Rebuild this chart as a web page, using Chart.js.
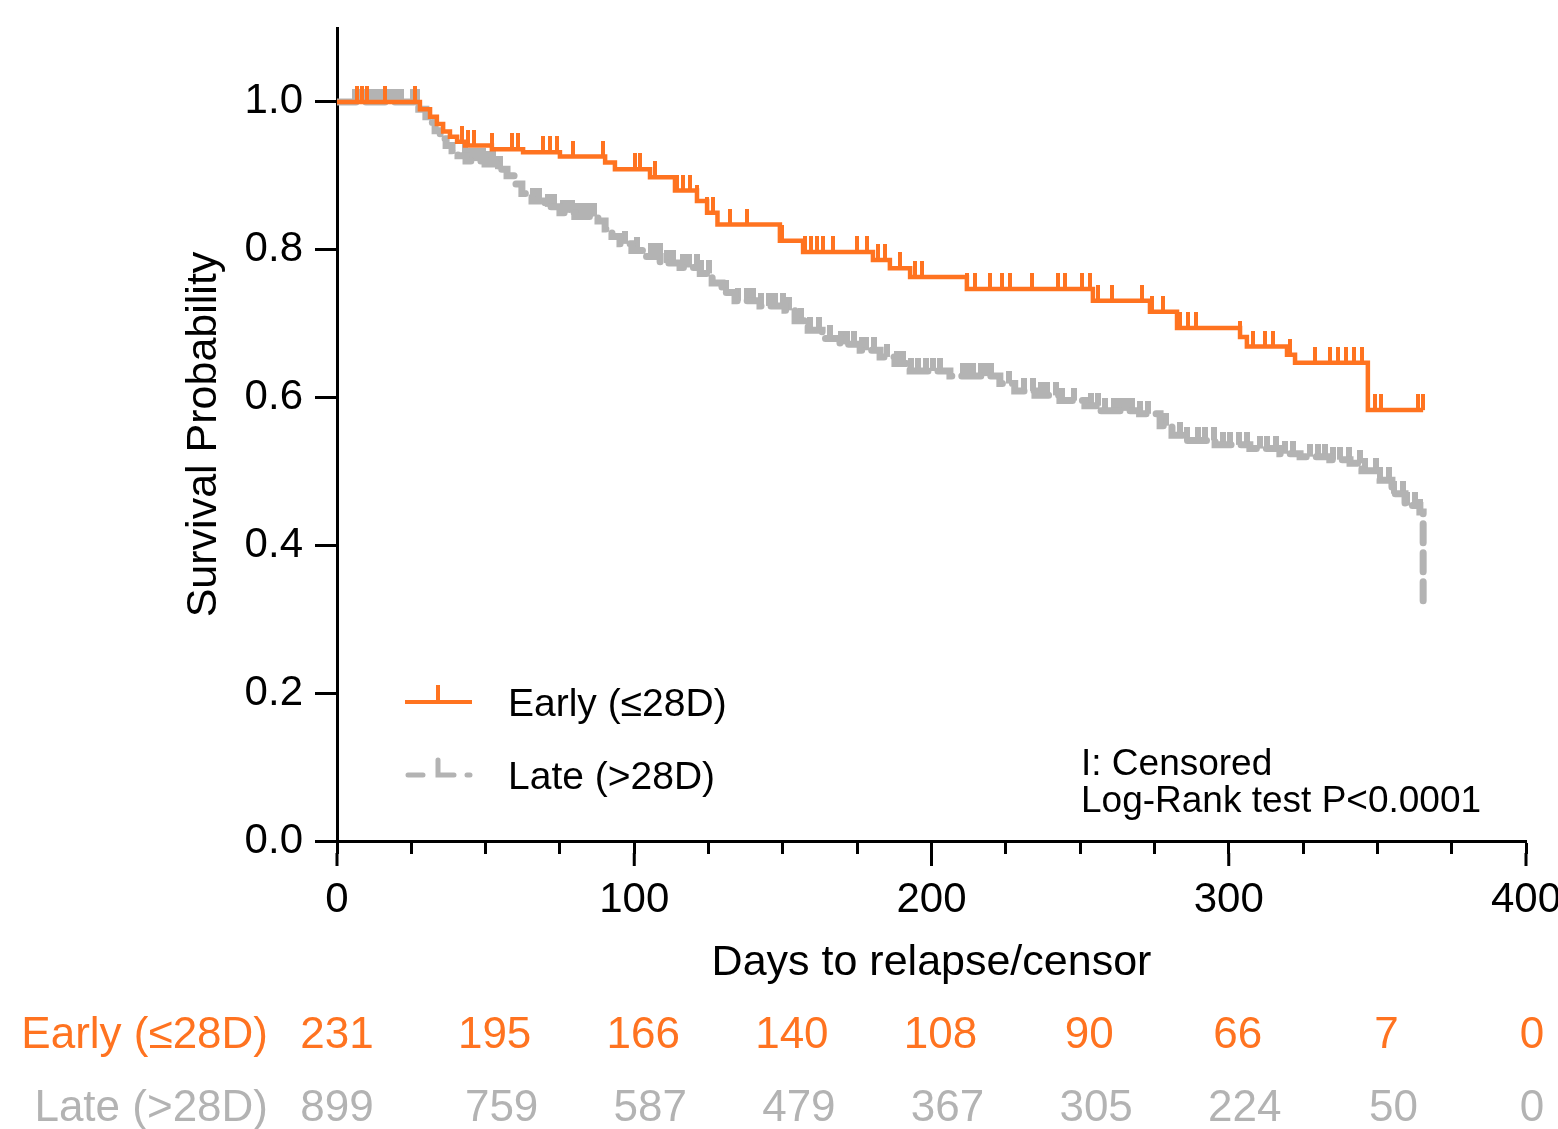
<!DOCTYPE html>
<html>
<head>
<meta charset="utf-8">
<script src="https://cdn.jsdelivr.net/npm/chart.js"></script>
<style>
  html, body { margin: 0; padding: 0; background: #fff; overflow: hidden; }
  #wrap { width: 1600px; height: 1129px; }
</style>
</head>
<body>
<div id="wrap"><canvas id="km"></canvas></div>
<script>
// Kaplan-Meier steps: time (days) where survival drops, and survival after the drop
const seriesNames = ['Early (\u226428D)', 'Late (>28D)'];

const earlyTimes = [0, 27.9, 31.3, 33.6, 35.7, 38.0, 40.4, 43.1, 52.1, 62.6, 75.0, 90.2, 93.5, 105.3, 113.7, 121.1, 124.5, 128.0, 149.0, 156.8, 180.3, 186.0, 192.8, 211.9, 254.3, 273.5, 282.6, 303.8, 306.1, 319.6, 322.3, 346.8, 365.4];
const earlySurv = [1.0, 0.990, 0.980, 0.970, 0.960, 0.953, 0.946, 0.941, 0.936, 0.932, 0.926, 0.918, 0.909, 0.898, 0.880, 0.866, 0.850, 0.834, 0.812, 0.797, 0.786, 0.775, 0.763, 0.747, 0.731, 0.716, 0.694, 0.682, 0.669, 0.658, 0.647, 0.583, 0.583];
const earlyCensor = [6.7, 8.4, 10.1, 16.1, 26.2, 42.1, 44.1, 46.1, 52.1, 58.9, 60.9, 69.3, 71.7, 74.0, 79.4, 89.5, 100.3, 101.9, 107.0, 114.4, 116.4, 118.8, 121.1, 124.5, 126.5, 132.2, 137.9, 149.7, 157.4, 159.5, 161.5, 163.5, 166.9, 174.9, 178.3, 182.0, 184.4, 189.4, 194.5, 196.8, 211.9, 214.6, 219.7, 223.7, 226.4, 233.8, 242.6, 244.9, 250.6, 253.3, 256.0, 260.7, 270.8, 274.2, 277.9, 283.6, 286.3, 289.0, 303.8, 308.2, 312.2, 314.9, 320.6, 329.0, 334.1, 336.8, 339.4, 342.1, 344.8, 349.2, 351.2, 363.7, 365.4];

const lateTimes = [0, 27.5, 29.9, 31.3, 33.0, 34.7, 36.7, 38.7, 40.7, 43.4, 49.8, 53.8, 57.2, 59.9, 62.2, 65.6, 70.0, 75.0, 80.0, 87.8, 90.2, 92.5, 95.2, 99.2, 103.6, 108.7, 115.4, 122.2, 126.2, 129.5, 133.9, 142.3, 150.7, 154.1, 158.5, 163.2, 169.2, 176.0, 182.7, 187.7, 192.8, 206.2, 223.0, 228.0, 234.8, 243.2, 251.6, 256.7, 270.0, 276.9, 280.9, 285.3, 295.4, 307.1, 317.2, 324.0, 334.0, 340.8, 344.8, 350.9, 354.9, 359.3, 364.3, 365.4];
const lateSurv = [1.0, 0.990, 0.980, 0.972, 0.961, 0.950, 0.941, 0.934, 0.927, 0.920, 0.916, 0.909, 0.900, 0.889, 0.876, 0.866, 0.858, 0.850, 0.845, 0.839, 0.828, 0.818, 0.808, 0.799, 0.791, 0.782, 0.776, 0.768, 0.755, 0.742, 0.731, 0.724, 0.718, 0.704, 0.691, 0.680, 0.672, 0.664, 0.655, 0.646, 0.636, 0.629, 0.619, 0.609, 0.603, 0.596, 0.589, 0.582, 0.578, 0.562, 0.549, 0.542, 0.536, 0.531, 0.524, 0.520, 0.516, 0.511, 0.501, 0.488, 0.470, 0.454, 0.445, 0.323];
const lateCensor = [6, 7.5, 9, 10.5, 12.5, 14, 15.5, 17, 18.5, 20, 21.5, 25.5, 27, 43, 44.5, 46, 47.5, 49, 51, 52.5, 54, 55, 66, 68, 71, 73, 76, 77.5, 79, 80.5, 82, 83.5, 85, 86.5, 97, 101, 105.5, 107, 108.5, 111, 113, 116.5, 118.5, 121, 122.5, 125, 131, 135, 138, 140, 142.5, 145.5, 147.5, 150, 152, 156, 159, 162, 166, 169.5, 171.5, 174, 176.5, 178, 180.5, 185, 188.5, 190.5, 193, 195.5, 198, 200.5, 203, 210.5, 212, 214, 216.5, 218, 220, 226, 231, 234, 237, 239, 242, 244, 248, 253.5, 256, 258.5, 261.5, 263.5, 265.5, 267.5, 270, 273, 279, 283.5, 286, 289.5, 292, 295, 298, 300.5, 303.5, 306, 310.5, 313, 316, 319, 321.5, 327.5, 330, 332.5, 335, 337.5, 340.5, 344, 346, 349.5, 351, 354, 355.5, 358.5, 360, 362.5, 364.5];

// axis ticks
const xTicks = [0, 25, 50, 75, 100, 125, 150, 175, 200, 225, 250, 275, 300, 325, 350, 375, 400];
const xLabelled = [0, 100, 200, 300, 400];
const yTicks = [0, 0.2, 0.4, 0.6, 0.8, 1.0];

// number at risk table
const riskTimes = [0, 50, 100, 150, 200, 250, 300, 350, 400];
const riskEarly = [231, 195, 166, 140, 108, 90, 66, 7, 0];
const riskLate = [899, 759, 587, 479, 367, 305, 224, 50, 0];

const notes = ['I: Censored', 'Log-Rank test P<0.0001'];

const orange = '#ff7320';
const grey = '#b3b3b3';
const FONT = "'Liberation Sans', Arial, Helvetica, sans-serif";

function survAt(times, surv, t) {
    let s = surv[0];
    for (let i = 0; i < times.length; i++) {
        if (times[i] <= t) s = surv[i];
    }
    return s;
}

// censor mark: vertical tick standing on the curve
function tickImage(color, w, h) {
    const c = document.createElement('canvas');
    c.width = w;
    c.height = h * 2;
    const g = c.getContext('2d');
    g.fillStyle = color;
    g.fillRect(0, 0, w, h);
    return c;
}

const overlay = {
    id: 'overlay',
    afterDraw(chart) {
        const ctx = chart.ctx;
        const x = chart.scales.x;
        ctx.save();

        // longer marks for the labelled x ticks
        ctx.strokeStyle = '#000';
        ctx.lineWidth = 3;
        ctx.beginPath();
        xLabelled.forEach(v => {
            const px = x.getPixelForValue(v);
            ctx.moveTo(px, x.top + 12);
            ctx.lineTo(px, x.top + 25);
        });
        ctx.stroke();

        // legend
        ctx.lineCap = 'butt';
        ctx.strokeStyle = orange;
        ctx.lineWidth = 4;
        ctx.beginPath();
        ctx.moveTo(405, 702); ctx.lineTo(472, 702);
        ctx.moveTo(438, 685); ctx.lineTo(438, 702);
        ctx.stroke();

        ctx.strokeStyle = grey;
        ctx.lineWidth = 5;
        ctx.lineCap = 'round';
        ctx.beginPath();
        ctx.moveTo(408, 775); ctx.lineTo(423, 775);
        ctx.moveTo(438, 760); ctx.lineTo(438, 775); ctx.lineTo(454, 775);
        ctx.moveTo(467, 775); ctx.lineTo(470, 775);
        ctx.stroke();

        ctx.fillStyle = '#000';
        ctx.font = '39px ' + FONT;
        ctx.textAlign = 'left';
        ctx.textBaseline = 'alphabetic';
        ctx.fillText(seriesNames[0], 508, 716);
        ctx.fillText(seriesNames[1], 508, 789);

        // notes
        ctx.font = '37px ' + FONT;
        ctx.fillText(notes[0], 1081, 775);
        ctx.fillText(notes[1], 1081, 812);

        // risk table
        ctx.font = '44px ' + FONT;
        const rows = [
            { name: seriesNames[0], vals: riskEarly, color: orange, y: 1048, shift: 9 },
            { name: seriesNames[1], vals: riskLate, color: grey, y: 1121, shift: 16 }
        ];
        rows.forEach(r => {
            ctx.fillStyle = r.color;
            ctx.textAlign = 'right';
            ctx.fillText(r.name, 268, r.y);
            ctx.textAlign = 'center';
            riskTimes.forEach((t, i) => {
                const px = x.getPixelForValue(t) + (t === 0 ? 0 : (t === 400 ? 6 : r.shift));
                ctx.fillText(String(r.vals[i]), px, r.y);
            });
        });
        ctx.restore();
    }
};

Chart.defaults.font.family = FONT;
Chart.defaults.color = '#000';

new Chart(document.getElementById('km'), {
    type: 'line',
    data: {
        datasets: [
            {
                label: seriesNames[0],
                data: earlyTimes.map((t, i) => ({ x: t, y: earlySurv[i] })),
                borderColor: orange,
                borderWidth: 4.5,
                stepped: true,
                pointRadius: 0,
                fill: false
            },
            {
                label: seriesNames[0] + ' censored',
                data: earlyCensor.map(t => ({ x: t, y: survAt(earlyTimes, earlySurv, t) })),
                showLine: false,
                pointStyle: tickImage(orange, 4, 16),
                pointRadius: 3
            },
            {
                label: seriesNames[1],
                data: lateTimes.map((t, i) => ({ x: t, y: lateSurv[i] })),
                borderColor: grey,
                borderWidth: 7,
                borderDash: [19, 10],
                borderCapStyle: 'round',
                stepped: true,
                pointRadius: 0,
                fill: false
            },
            {
                label: seriesNames[1] + ' censored',
                data: lateCensor.map(t => ({ x: t, y: survAt(lateTimes, lateSurv, t) })),
                showLine: false,
                pointStyle: tickImage(grey, 6, 13),
                pointRadius: 3
            }
        ]
    },
    options: {
        responsive: true,
        maintainAspectRatio: false,
        animation: false,
        layout: { padding: { left: 178, right: 74, top: 28, bottom: 140 } },
        plugins: { legend: { display: false }, tooltip: { enabled: false } },
        scales: {
            x: {
                type: 'linear',
                min: 0,
                max: 400,
                afterBuildTicks: s => { s.ticks = xTicks.map(v => ({ value: v })); },
                afterFit: s => { s.height = 148; },
                ticks: {
                    autoSkip: false,
                    maxRotation: 0,
                    padding: 21,
                    font: { size: 42 },
                    callback: v => xLabelled.includes(v) ? String(v) : ''
                },
                grid: { drawOnChartArea: false, drawTicks: true, tickLength: 13, tickWidth: 3, tickColor: '#000' },
                border: { color: '#000', width: 3 },
                title: { display: true, text: 'Days to relapse/censor', font: { size: 43 }, padding: 0 }
            },
            y: {
                type: 'linear',
                min: 0,
                max: 1.1,
                afterBuildTicks: s => { s.ticks = yTicks.map(v => ({ value: v })); },
                afterFit: s => { s.width = 159; s.paddingTop = 0; s.paddingBottom = 0; },
                ticks: {
                    padding: 12,
                    font: { size: 42 },
                    callback: v => v.toFixed(1)
                },
                grid: { drawOnChartArea: false, drawTicks: true, tickLength: 22, tickWidth: 3, tickColor: '#000' },
                border: { color: '#000', width: 3 },
                title: { display: true, text: 'Survival Probability', font: { size: 43 }, padding: 0 }
            }
        }
    },
    plugins: [overlay]
});
</script>
</body>
</html>
